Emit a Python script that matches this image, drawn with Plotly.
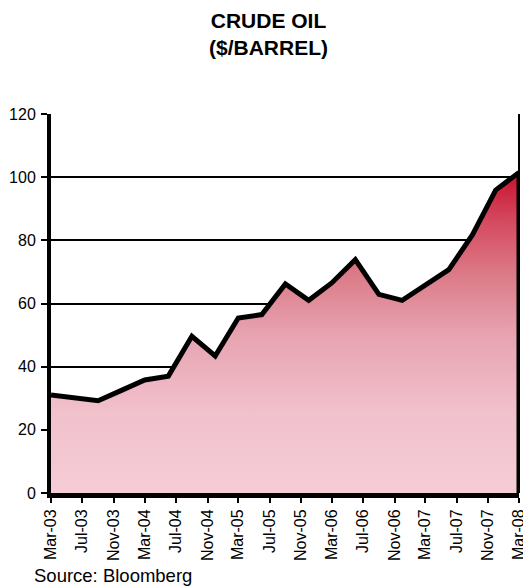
import plotly.graph_objects as go

# Quarterly crude oil price ($/barrel)
dates = ["2003-03-01", "2003-06-01", "2003-09-01", "2003-12-01",
         "2004-03-01", "2004-06-01", "2004-09-01", "2004-12-01",
         "2005-03-01", "2005-06-01", "2005-09-01", "2005-12-01",
         "2006-03-01", "2006-06-01", "2006-09-01", "2006-12-01",
         "2007-03-01", "2007-06-01", "2007-09-01", "2007-12-01",
         "2008-03-01"]
price = [31.0, 30.0, 29.2, 32.5,
         35.8, 37.0, 49.6, 43.4,
         55.4, 56.5, 66.2, 61.0,
         66.5, 73.9, 62.9, 61.0,
         65.9, 70.7, 81.7, 95.9,
         101.5]

y_ticks = [0, 20, 40, 60, 80, 100, 120]

FONT = "Liberation Sans, Arial, sans-serif"

fig = go.Figure()

fig.add_trace(go.Scatter(
    x=dates, y=price, mode="lines",
    line=dict(color="black", width=5),
    fill="tozeroy",
    fillgradient=dict(
        type="vertical",
        start=0, stop=max(price),
        colorscale=[[0.0, "#F5CCD6"], [0.25, "#F1C1CC"], [0.5, "#E7A2B0"],
                    [0.68, "#DC7B88"], [0.85, "#D4495E"], [1.0, "#C8102E"]],
    ),
    hoverinfo="skip", showlegend=False,
))

# closing right edge of the area outline
fig.add_trace(go.Scatter(
    x=[dates[-1], dates[-1]], y=[0, price[-1]], mode="lines",
    line=dict(color="black", width=5),
    hoverinfo="skip", showlegend=False,
))

fig.update_layout(
    width=523, height=587,
    margin=dict(l=51, r=4, t=114, b=94, autoexpand=False),
    paper_bgcolor="white", plot_bgcolor="white",
    font=dict(family=FONT, color="black"),
    hovermode=False,
    xaxis=dict(
        type="date",
        range=[dates[0], dates[-1]],
        tick0=dates[0], dtick="M4", tickformat="%b-%y",
        tickangle=-90,
        tickfont=dict(family=FONT, size=16, color="black"),
        ticklabeloverflow="allow",
        automargin=False,
        ticks="outside", ticklen=5, tickwidth=2, tickcolor="black",
        showline=True, linewidth=5, linecolor="black",
        showgrid=False, zeroline=False,
    ),
    yaxis=dict(
        range=[0, 120],
        tickvals=y_ticks,
        tickfont=dict(family=FONT, size=16, color="black"),
        automargin=False,
        ticks="outside", ticklen=6, tickwidth=2, tickcolor="black",
        ticklabelstandoff=2,
        showline=True, linewidth=4, linecolor="black",
        showgrid=True, gridcolor="black", gridwidth=2,
        zeroline=False,
    ),
    shapes=[dict(type="line", xref="paper", yref="paper",
                 x0=1, x1=1, y0=0, y1=1,
                 line=dict(color="black", width=2), layer="below")],
    annotations=[
        dict(
            text="<b>CRUDE OIL<br>($/BARREL)</b>", showarrow=False,
            xref="paper", yref="paper",
            x=0.4658, xanchor="center", y=1.2124, yanchor="middle",
            align="center",
            font=dict(family=FONT, size=21, color="black"),
        ),
        dict(
            text="Source: Bloomberg", showarrow=False,
            xref="paper", yref="paper",
            x=-0.0406, xanchor="left", y=-0.2164, yanchor="middle",
            font=dict(family=FONT, size=18.5, color="black"),
        ),
    ],
)

fig.write_html(
    "out.html",
    config={"displayModeBar": False},
    post_script="document.body.style.margin='0';document.body.style.overflow='hidden';",
)
